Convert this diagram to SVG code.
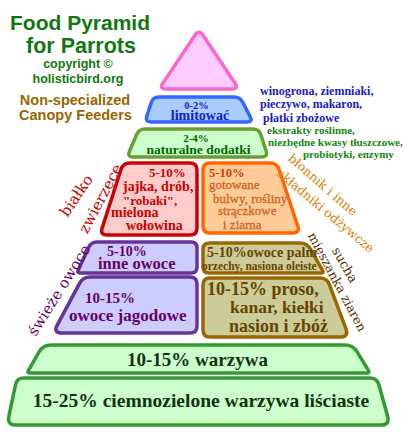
<svg xmlns="http://www.w3.org/2000/svg" width="412" height="445" viewBox="0 0 412 445">
<style>
.t{font-family:"Liberation Sans",Arial,sans-serif;font-weight:bold;}
.s{font-family:"Liberation Serif","Times New Roman",serif;font-weight:bold;}
.r{font-family:"DejaVu Serif",serif;}
.box{stroke-width:3.5;stroke-linejoin:round;}
</style>
<rect width="412" height="445" fill="#ffffff"/>
<g id="title" class="t" text-anchor="middle">
<text x="80" y="30" font-size="21" fill="#117711">Food Pyramid</text>
<text x="81" y="53" font-size="21.5" fill="#117711">for Parrots</text>
<text x="78" y="68" font-size="12.5" fill="#117711">copyright ©</text>
<text x="78" y="83" font-size="12.5" fill="#117711">holisticbird.org</text>
<text x="75" y="105" font-size="14.5" fill="#996600">Non-specialized</text>
<text x="75.5" y="120" font-size="14.5" fill="#996600">Canopy Feeders</text>
</g>
<g id="top">
<path class="box" d="M 194.6,35.7 Q 199,29 203.4,35.7 L 235.1,83.2 Q 239,89 232,89 L 166,89 Q 159,89 162.9,83.2 Z" fill="#ffccff" stroke="#ff66cc"/>
</g>
<g id="limit">
<path class="box" d="M 159,97 L 234,97 Q 240,97 242.8,102.3 L 250.2,116.7 Q 253,122 247,122 L 151,122 Q 145,122 146.8,116.3 L 151.2,102.7 Q 153,97 159,97 Z" fill="#aaccff" stroke="#3366ff"/>
<g class="s" fill="#1122cc" text-anchor="middle">
<text x="196.5" y="108.5" font-size="10.5">0-2%</text>
<text x="200" y="120" font-size="14">limitować</text>
</g>
</g>
<g id="dodatki">
<path class="box" d="M 145,129 L 253,129 Q 259,129 260.8,134.7 L 266.2,151.3 Q 268,157 262,157 L 133,157 Q 127,157 129.4,151.5 L 136.6,134.5 Q 139,129 145,129 Z" fill="#ccffcc" stroke="#66a033"/>
<g class="s" fill="#006600" text-anchor="middle">
<text x="196" y="141.5" font-size="11">2-4%</text>
<text x="198.5" y="154" font-size="13.5">naturalne dodatki</text>
</g>
</g>
<g id="limit-note" class="s">
<g fill="#1a1acc" font-size="12">
<text x="260" y="95">winogrona, ziemniaki,</text>
<text x="260" y="107.5">pieczywo, makaron,</text>
<text x="263" y="122">płatki zbożowe</text>
</g>
<g fill="#118811" font-size="11">
<text x="267" y="134">ekstrakty roślinne,</text>
<text x="268" y="145.5">niezbędne kwasy tłuszczowe,</text>
<text x="303" y="158">probiotyki, enzymy</text>
</g>
</g>
<g id="bialko">
<path class="box" d="M 130,163 L 190,163 Q 197,163 197,170 L 197,228 Q 197,235 190,235 L 107,235 Q 100,235 102.1,228.3 L 120.9,169.7 Q 123,163 130,163 Z" fill="#ffcccc" stroke="#cc0000"/>
<g class="s" fill="#cc0000">
<text x="149" y="177" font-size="13">5-10%</text>
<text x="123" y="191" font-size="14">jajka, drób,</text>
<text x="123" y="204.5" font-size="13">"robaki",</text>
<text x="111" y="217" font-size="14">mielona</text>
<text x="126" y="229.5" font-size="14">wołowina</text>
</g>
</g>
<g id="blonnik">
<path class="box" d="M 210,163 L 270,163 Q 277,163 279.2,169.7 L 297.8,226.3 Q 300,233 293,233 L 210,233 Q 203,233 203,226 L 203,170 Q 203,163 210,163 Z" fill="#ffcc99" stroke="#ff6600"/>
<text class="s" x="209" y="177" font-size="12.5" fill="#cc4400">5-10%</text>
<g font-family="Liberation Serif,serif" font-size="13" fill="#cc6622" stroke="#cc6622" stroke-width="0.3">
<text x="209" y="189">gotowane</text>
<text x="213" y="203">bulwy, rośliny</text>
<text x="218" y="215">strączkowe</text>
<text x="223" y="229">i ziarna</text>
</g>
</g>
<g id="inne-owoce">
<path class="box" d="M 97,242 L 191,242 Q 197,242 197,248 L 197,267 Q 197,273 191,273 L 80,273 Q 77,273 78.2,270.3 L 88.5,247.5 Q 91,242 97,242 Z" fill="#ccccff" stroke="#663399"/>
<g class="s" fill="#660066">
<text x="107" y="256" font-size="14">5-10%</text>
<text x="98" y="269" font-size="16.5">inne owoce</text>
</g>
</g>
<g id="jagodowe">
<path class="box" d="M 90,277 L 190,277 Q 197,277 197,284 L 197,326 Q 197,333 190,333 L 62,333 Q 53,333 57.2,325.1 L 79.7,283.2 Q 83,277 90,277 Z" fill="#ccccff" stroke="#663399"/>
<g class="s" fill="#660066">
<text x="85" y="303" font-size="15">10-15%</text>
<text x="69" y="321" font-size="17">owoce jagodowe</text>
</g>
</g>
<g id="palm">
<path class="box" d="M 210,243 L 300,243 Q 307,243 310.5,249.1 L 322.5,270.4 Q 324,273 321,273 L 209,273 Q 203,273 203,267 L 203,249 Q 203,243 210,243 Z" fill="#cccc99" stroke="#996600"/>
<g class="s" fill="#664400">
<text x="207" y="257" font-size="14">5-10%owoce palm</text>
<text x="202" y="270" font-size="11.5">orzechy, nasiona oleiste</text>
</g>
</g>
<g id="proso">
<path class="box" d="M 210,278 L 320,278 Q 327,278 329.4,284.6 L 345.9,328.6 Q 349,337 340,337 L 210,337 Q 203,337 203,330 L 203,285 Q 203,278 210,278 Z" fill="#cccc99" stroke="#996600"/>
<g class="s" fill="#664400">
<text x="207" y="295" font-size="18">10-15% proso,</text>
<text x="230" y="313" font-size="17.5">kanar, kiełki</text>
<text x="229" y="332" font-size="18">nasion i zbóż</text>
</g>
</g>
<g id="warzywa">
<path class="box" d="M 51,345 L 345,345 Q 353,345 357.1,351.8 L 368.4,370.4 Q 370,373 367,373 L 30,373 Q 27,373 28.5,370.4 L 39,352 Q 43,345 51,345 Z" fill="#ccffcc" stroke="#339933"/>
<text class="s" x="197.5" y="366" font-size="19" fill="#113311" text-anchor="middle">10-15% warzywa</text>
</g>
<g id="lisciaste">
<path class="box" d="M 24,378 L 370,378 Q 377,378 378.9,384.7 L 387.6,416.3 Q 390,425 381,425 L 16,425 Q 7,425 8.9,416.2 L 15.5,384.8 Q 17,378 24,378 Z" fill="#ccffcc" stroke="#339933"/>
<text class="s" x="201" y="407" font-size="19.5" fill="#113311" text-anchor="middle">15-25% ciemnozielone warzywa liściaste</text>
</g>
<g id="side-labels" class="r" text-anchor="middle">
<text transform="translate(80.5,198.5) rotate(-56)" font-size="15" fill="#cc0000">białko</text>
<text transform="translate(105,201) rotate(-62)" font-size="15" fill="#cc0000">zwierzęce</text>
<text transform="translate(63.4,293) rotate(-58)" font-size="15" fill="#660066">świeże owoce</text>
<text transform="translate(320,188) rotate(41)" font-size="12.5" fill="#e08000">błonnik i inne</text>
<text transform="translate(323,214) rotate(40)" font-size="12.5" fill="#e08000">składniki odżywcze</text>
<text transform="translate(341,267) rotate(60)" font-size="13" fill="#553300">sucha</text>
<text transform="translate(333.4,284) rotate(62)" font-size="12.5" fill="#553300">mieszanka ziaren</text>
</g>
</svg>
